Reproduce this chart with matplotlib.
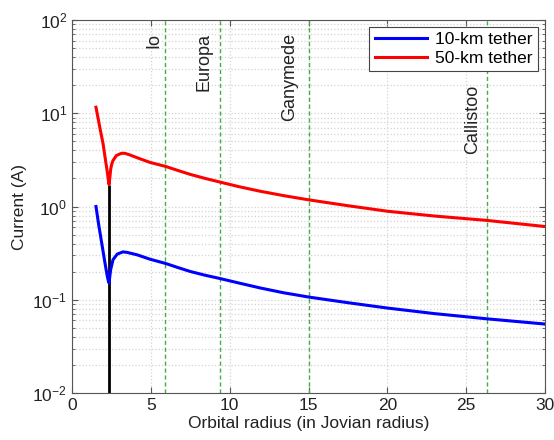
import matplotlib
matplotlib.use("Agg")
import matplotlib.pyplot as plt
from matplotlib.ticker import LogLocator, MultipleLocator, NullFormatter

plt.rcParams['font.family'] = ['Liberation Sans', 'DejaVu Sans']
plt.rcParams['mathtext.fontset'] = 'custom'
plt.rcParams['mathtext.rm'] = 'Liberation Sans'
plt.rcParams['mathtext.it'] = 'Liberation Sans:italic'

# Orbital radius (Jovian radii) and tether current (A), 50-km tether
radius_50km = [1.52, 1.76, 1.97, 2.11, 2.24, 2.30, 2.35, 2.40, 2.45, 2.52, 2.60,
               2.81, 3.13, 3.35, 3.66, 4.14, 4.95, 5.94, 6.70, 7.50, 8.40, 9.38,
               10.6, 11.92, 13.4, 15.0, 17.5, 20.0, 23.0, 26.3, 30.0]
current_50km = [11.6, 7.1, 4.7, 3.25, 2.33, 1.95, 1.72, 2.05, 2.50, 2.85, 3.11,
                3.52, 3.72, 3.72, 3.58, 3.33, 2.97, 2.69, 2.44, 2.21, 2.01, 1.83,
                1.63, 1.46, 1.31, 1.18, 1.02, 0.89, 0.79, 0.71, 0.61]

# 10-km tether
radius_10km = [1.52, 1.69, 1.90, 2.07, 2.22, 2.30, 2.35, 2.40, 2.45, 2.60, 2.87,
               3.23, 3.50, 3.76, 4.14, 4.95, 5.94, 6.70, 7.50, 8.40, 9.38, 10.6,
               11.92, 13.4, 15.0, 17.5, 20.0, 23.0, 26.3, 30.0]
current_10km = [1.00, 0.64, 0.39, 0.26, 0.185, 0.16, 0.151, 0.18, 0.21, 0.269, 0.309,
                0.326, 0.322, 0.314, 0.303, 0.272, 0.245, 0.222, 0.201, 0.184, 0.169, 0.151,
                0.134, 0.119, 0.107, 0.093, 0.0815, 0.071, 0.0625, 0.0549]

# Moon orbits
moon_names = ['Io', 'Europa', 'Ganymede', 'Callistoo']
moon_radius = [5.9, 9.4, 15.0, 26.3]
moon_label_x = [5.2, 8.4, 13.8, 25.4]
moon_label_top = [72, 72, 72, 20]

# Synchronous orbit marker
sync_radius = 2.35
sync_current = 1.72

fig = plt.figure(figsize=(5.54, 4.40), dpi=100)
ax = fig.add_axes([0.130, 0.1068, 0.8538, 0.8477])

ax.set_yscale('log')
ax.set_xlim(0, 30)
ax.set_ylim(1e-2, 1e2)

ax.grid(True, which='major', color='#d4d4d4', linestyle=':', linewidth=0.9)
ax.grid(True, which='minor', axis='y', color='#d4d4d4', linestyle=':', linewidth=0.9)
ax.set_axisbelow(True)

for xm in moon_radius:
    ax.axvline(xm, color='#44b044', linestyle=(0, (3, 2)), linewidth=1.0, zorder=2)

ax.plot([sync_radius, sync_radius], [1e-2, sync_current], color='black',
        linewidth=2.0, zorder=3, solid_capstyle='butt')

ax.plot(radius_10km, current_10km, color='#0000ff', linewidth=2.2,
        label='10-km tether', zorder=4, solid_joinstyle='round')
ax.plot(radius_50km, current_50km, color='#ff0000', linewidth=2.2,
        label='50-km tether', zorder=4, solid_joinstyle='round')

for name, lx, top in zip(moon_names, moon_label_x, moon_label_top):
    ax.text(lx, top, name, rotation=90, ha='center', va='top', fontsize=13,
            color='#222222')

ax.xaxis.set_major_locator(MultipleLocator(5))
ax.yaxis.set_major_locator(LogLocator(base=10, numticks=10))
ax.yaxis.set_minor_locator(LogLocator(base=10, subs=range(2, 10), numticks=50))
ax.yaxis.set_minor_formatter(NullFormatter())

ax.tick_params(which='both', direction='in', top=True, right=True, colors='#555555',
               labelcolor='#222222', labelsize=12.5)
ax.tick_params(which='minor', length=2)
ax.tick_params(which='major', length=4)
for sp in ax.spines.values():
    sp.set_color('#555555')
    sp.set_linewidth(0.8)

ax.set_xlabel('Orbital radius (in Jovian radius)', fontsize=12.5, color='#222222', labelpad=2)
ax.set_ylabel('Current (A)', fontsize=12.5, color='#222222', labelpad=4)

leg = ax.legend(loc='upper right', fontsize=12.5, fancybox=False, edgecolor='#444444',
                framealpha=1, handlelength=3.0, borderaxespad=0.4, borderpad=0.3,
                labelspacing=0.2, handletextpad=0.5)
leg.get_frame().set_linewidth(0.8)

fig.savefig('out.png', dpi=100, facecolor='white')
